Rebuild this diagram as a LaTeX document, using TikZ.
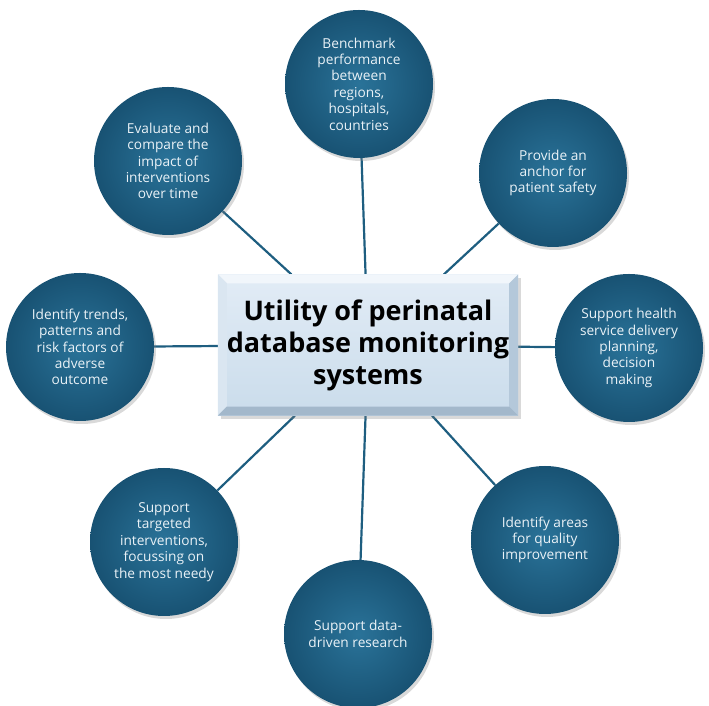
\documentclass[tikz,border=0pt]{standalone}
\usepackage{fontspec}
\setmainfont{Open Sans}
\usetikzlibrary{shadows,backgrounds}
\definecolor{spokerim}{HTML}{185273}
\definecolor{spokecore}{HTML}{2A7399}
\definecolor{spoketext}{HTML}{EAF2F7}
\definecolor{linkblue}{HTML}{1E5E80}
\definecolor{hubtop}{HTML}{E2ECF6}
\definecolor{hubbottom}{HTML}{CADCEB}
\definecolor{bevellight}{HTML}{F1F6FB}
\definecolor{bevelside}{HTML}{DAE6F1}
\definecolor{beveldark}{HTML}{B4C8DA}
\definecolor{bevelbottom}{HTML}{A3B8CB}

\begin{document}
\begin{tikzpicture}[x=1pt,y=1pt,
  spoke/.style={circle,minimum size=148pt,inner sep=0pt,align=center,text=spoketext,font=\fontsize{13.7}{16.4}\selectfont,inner color=spokecore,outer color=spokerim,drop shadow={shadow xshift=2pt,shadow yshift=-3pt,opacity=0.3}},
  hub/.style={rectangle,minimum width=300pt,minimum height=141pt,inner sep=0pt,align=center,font=\fontsize{27}{32}\selectfont\bfseries,top color=hubtop,bottom color=hubbottom,drop shadow={shadow xshift=3pt,shadow yshift=-4pt,opacity=0.3}},
  link/.style={draw=linkblue,line width=2.2pt}]
\useasboundingbox (0,0) rectangle (709,706);
\node[hub] (hub) at (368,361) {Utility of perinatal\\database monitoring\\systems};
% bevelled frame of the centre box
\fill[bevellight] (hub.north west) -- (hub.north east) -- ([shift={(-9,-9)}]hub.north east) -- ([shift={(9,-9)}]hub.north west) -- cycle;
\fill[bevelside] (hub.north west) -- ([shift={(9,-9)}]hub.north west) -- ([shift={(9,9)}]hub.south west) -- (hub.south west) -- cycle;
\fill[beveldark] (hub.north east) -- ([shift={(-9,-9)}]hub.north east) -- ([shift={(-9,9)}]hub.south east) -- (hub.south east) -- cycle;
\fill[bevelbottom] (hub.south west) -- ([shift={(9,9)}]hub.south west) -- ([shift={(-9,9)}]hub.south east) -- (hub.south east) -- cycle;
\node[spoke] (bench) at (359,622) {Benchmark\\performance\\between\\regions,\\hospitals,\\countries};
\node[spoke] (safety) at (553,533) {Provide an\\anchor for\\patient safety};
\node[spoke] (plan) at (629,358) {Support health\\service delivery\\planning,\\decision\\making};
\node[spoke] (quality) at (545,166) {Identify areas\\for quality\\improvement};
\node[spoke] (research) at (358,72) {Support data-\\driven research};
\node[spoke] (target) at (164,164) {Support\\targeted\\interventions,\\focussing on\\the most needy};
\node[spoke] (trends) at (80,359) {Identify trends,\\patterns and\\risk factors of\\adverse\\outcome};
\node[spoke] (evaluate) at (168,545) {Evaluate and\\compare the\\impact of\\interventions\\over time};
\begin{scope}[on background layer]
\draw[link] (hub)--(bench); \draw[link] (hub)--(safety); \draw[link] (hub)--(plan); \draw[link] (hub)--(quality);
\draw[link] (hub)--(research); \draw[link] (hub)--(target); \draw[link] (hub)--(trends); \draw[link] (hub)--(evaluate);
\end{scope}
\end{tikzpicture}
\end{document}
